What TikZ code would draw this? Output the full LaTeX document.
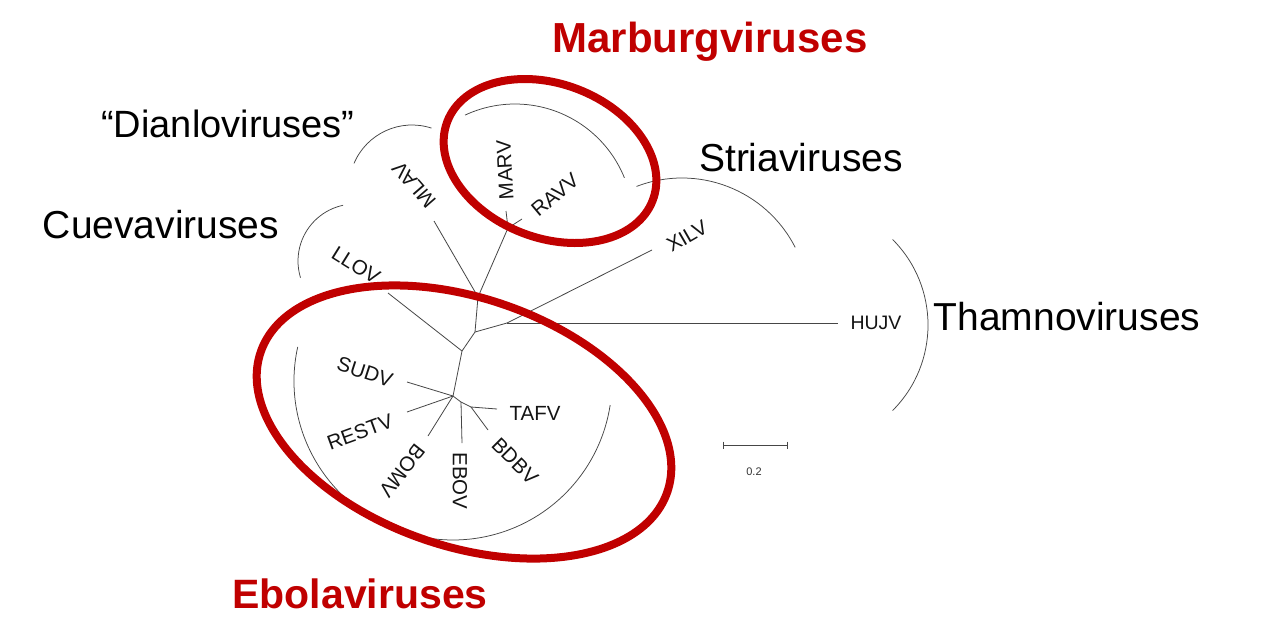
\documentclass[tikz,border=0pt]{standalone}
\usepackage{fontspec}
\setmainfont{Liberation Sans}
\definecolor{cladered}{RGB}{192,0,0}
\definecolor{treegray}{RGB}{70,70,70}
\tikzset{
  branch/.style={draw=treegray, line width=0.8pt},
  cladearc/.style={draw=treegray, line width=0.75pt},
  redring/.style={draw=cladered, line width=8pt},
  tiplabel/.style={inner sep=0pt, anchor=center, font=\fontsize{20.5}{24}\selectfont, text=black!92},
  cladename/.style={inner sep=0pt, anchor=base, font=\fontsize{39}{46}\selectfont, text=black},
  redname/.style={inner sep=0pt, anchor=base, font=\bfseries\fontsize{42}{48}\selectfont, text=cladered},
}
\begin{document}
\begin{tikzpicture}[x=1pt, y=-1pt]
\useasboundingbox (0,0) rectangle (1266,625);
\fill[white] (0,0) rectangle (1266,625);

% internal nodes
\coordinate (nA) at (475,332);
\coordinate (nH) at (507,323);
\coordinate (nM) at (478,297);
\coordinate (nMb) at (508,228);
\coordinate (nL) at (462,351);
\coordinate (nE) at (453,396);
\coordinate (nE1) at (461,402);
\coordinate (nE2) at (471,407);
% tips
\coordinate (tMARV) at (506,211);
\coordinate (tRAVV) at (522,219);
\coordinate (tMLAV) at (434,221);
\coordinate (tXILV) at (652,250);
\coordinate (tHUJV) at (838,323);
\coordinate (tLLOV) at (388,293);
\coordinate (tSUDV) at (407,382);
\coordinate (tRESTV) at (407,412);
\coordinate (tBOMV) at (428,436);
\coordinate (tEBOV) at (462,443);
\coordinate (tTAFV) at (497,409);
\coordinate (tBDBV) at (488,430);

% branches
\draw[branch] (nA) -- (nH);
\draw[branch] (nH) -- (tXILV);
\draw[branch] (nH) -- (tHUJV);
\draw[branch] (nA) -- (nM);
\draw[branch] (nM) -- (tMLAV);
\draw[branch] (nM) -- (nMb);
\draw[branch] (nMb) -- (tMARV);
\draw[branch] (nMb) -- (tRAVV);
\draw[branch] (nA) -- (nL);
\draw[branch] (nL) -- (tLLOV);
\draw[branch] (nL) -- (nE);
\draw[branch] (nE) -- (tSUDV);
\draw[branch] (nE) -- (tRESTV);
\draw[branch] (nE) -- (tBOMV);
\draw[branch] (nE) -- (nE1);
\draw[branch] (nE1) -- (tEBOV);
\draw[branch] (nE1) -- (nE2);
\draw[branch] (nE2) -- (tTAFV);
\draw[branch] (nE2) -- (tBDBV);

% tip labels
\node[tiplabel, rotate=93] (lMARV) at (505,170) {MARV};
\node[tiplabel, rotate=40] (lRAVV) at (555,195) {RAVV};
\node[tiplabel, rotate=131] (lMLAV) at (414,185) {MLAV};
\node[tiplabel, rotate=30] (lXILV) at (687,236) {XILV};
\node[tiplabel, font=\fontsize{19.5}{23}\selectfont] (lHUJV) at (876,323) {HUJV};
\node[tiplabel, rotate=-32] (lLLOV) at (356,265) {LLOV};
\node[tiplabel, rotate=-18] (lSUDV) at (365,372) {SUDV};
\node[tiplabel, rotate=20] (lRESTV) at (360,432) {RESTV};
\node[tiplabel, rotate=-128] (lBOMV) at (402,471) {BOMV};
\node[tiplabel, rotate=-90] (lEBOV) at (460,481) {EBOV};
\node[tiplabel, rotate=-45] (lBDBV) at (515,461) {BDBV};
\node[tiplabel] (lTAFV) at (535,413) {TAFV};

% clade arcs
\draw[cladearc] (412,188) ++(72:63pt) arc[start angle=72, end angle=157, radius=63pt];
\draw[cladearc] (355,261) ++(102:57pt) arc[start angle=102, end angle=197, radius=57pt];
\draw[cladearc] (515,222) ++(22:118pt) arc[start angle=22, end angle=115, radius=118pt];
\draw[cladearc] (682,305) ++(27:127pt) arc[start angle=27, end angle=111, radius=127pt];
\draw[cladearc] (807,325) ++(-45:121pt) arc[start angle=-45, end angle=45, radius=121pt];
\draw[cladearc] (453,381) ++(167.6:159pt) arc[start angle=167.6, end angle=351.3, radius=159pt];

% scale bar
\coordinate (sbL) at (723,445);
\coordinate (sbR) at (787,445);
\draw[branch] (sbL) -- (sbR);
\draw[branch] ([yshift=3.5pt]sbL) -- ([yshift=-3.5pt]sbL);
\draw[branch] ([yshift=3.5pt]sbR) -- ([yshift=-3.5pt]sbR);
\node[inner sep=0pt, font=\fontsize{11}{13}\selectfont, text=black!80] (sblabel) at (754,472) {0.2};

% red rings
\draw[redring, rotate around={-21:(550,161)}] (550,161) ellipse [x radius=110pt, y radius=77pt];
\draw[redring, rotate around={-19:(464,422)}] (464,422) ellipse [x radius=215pt, y radius=124pt];

% clade names
\node[redname] (marburg) at (710,52) {Marburgviruses};
\node[redname, font=\bfseries\fontsize{41}{48}\selectfont] (ebola) at (360,608) {Ebolaviruses};
\node[cladename, font=\fontsize{38}{45}\selectfont] (dianlo) at (228,137) {“Dianloviruses”};
\node[cladename] (cueva) at (161,238) {Cuevaviruses};
\node[cladename] (stria) at (801,171) {Striaviruses};
\node[cladename] (thamno) at (1067,330) {Thamnoviruses};
\end{tikzpicture}
\end{document}
